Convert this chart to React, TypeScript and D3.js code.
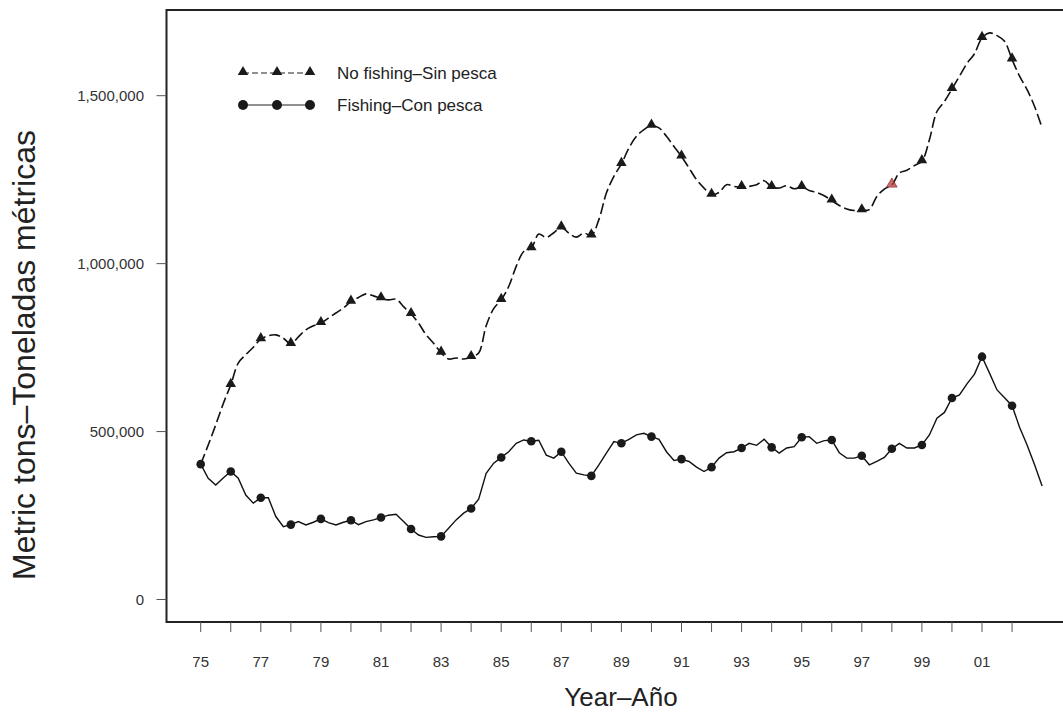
import React from "react";
import * as d3 from "d3";

const quarters: number[] = d3.range(0, 113).map((i) => 1975 + i * 0.25);

const noFishing: number[] = [
  403000, 460000, 520000, 583000,
  639000, 704000, 729000, 751000,
  775000, 785000, 788000, 778000,
  761000, 782000, 803000, 815000,
  823000, 838000, 853000, 868000,
  887000, 899000, 910000, 904000,
  897000, 892000, 894000, 872000,
  850000, 823000, 788000, 763000,
  735000, 716000, 719000, 716000,
  722000, 734000, 815000, 866000,
  892000, 932000, 992000, 1036000,
  1046000, 1088000, 1078000, 1092000,
  1108000, 1091000, 1079000, 1091000,
  1084000, 1131000, 1210000, 1260000,
  1297000, 1344000, 1379000, 1399000,
  1411000, 1404000, 1379000, 1349000,
  1319000, 1285000, 1250000, 1225000,
  1205000, 1212000, 1235000, 1230000,
  1228000, 1230000, 1235000, 1247000,
  1228000, 1225000, 1232000, 1223000,
  1228000, 1218000, 1212000, 1202000,
  1188000, 1173000, 1163000, 1158000,
  1159000, 1161000, 1200000, 1222000,
  1234000, 1270000, 1278000, 1292000,
  1305000, 1369000, 1453000, 1483000,
  1520000, 1558000, 1596000, 1625000,
  1672000, 1687000, 1679000, 1662000,
  1608000, 1558000, 1518000, 1468000,
  1404000,
];

const fishing: number[] = [
  403000, 361000, 341000, 362000,
  381000, 361000, 311000, 287000,
  303000, 303000, 247000, 217000,
  223000, 232000, 222000, 230000,
  240000, 229000, 222000, 230000,
  236000, 223000, 232000, 237000,
  244000, 251000, 254000, 232000,
  210000, 192000, 185000, 187000,
  188000, 212000, 237000, 257000,
  271000, 299000, 376000, 406000,
  423000, 440000, 465000, 475000,
  471000, 474000, 430000, 421000,
  440000, 406000, 376000, 371000,
  368000, 401000, 436000, 470000,
  465000, 477000, 490000, 495000,
  485000, 477000, 440000, 414000,
  418000, 411000, 394000, 381000,
  394000, 421000, 437000, 440000,
  451000, 465000, 459000, 477000,
  453000, 436000, 451000, 455000,
  483000, 485000, 465000, 473000,
  475000, 437000, 421000, 421000,
  428000, 401000, 411000, 423000,
  449000, 465000, 451000, 451000,
  460000, 490000, 540000, 557000,
  600000, 609000, 642000, 671000,
  723000, 674000, 624000, 601000,
  577000, 513000, 460000, 401000,
  338000,
];

const yTicks: number[] = [0, 500000, 1000000, 1500000];
const xTickYears: number[] = d3.range(1975, 2003);
const xLabelYears: number[] = d3.range(1975, 2002, 2);
const markerYears: number[] = d3.range(1975, 2003);
const highlightYear = 1998;

const legendItems = [
  { label: "No fishing\u2013Sin pesca", kind: "triangle" },
  { label: "Fishing\u2013Con pesca", kind: "circle" },
];

const W = 1063;
const H = 713;
const FONT = "'Liberation Sans', Arial, Helvetica, sans-serif";

export default function App() {
  const left = 166.5;
  const right = 1070;
  const top = 10;
  const bottom = 622;

  const x = d3.scaleLinear().domain([1975, 2001]).range([200.7, 982]);
  const y = d3.scaleLinear().domain([0, 1500000]).range([599.5, 95.7]);

  const lineNo = d3
    .line<number>()
    .x((_, i) => x(quarters[i]))
    .y((d) => y(d))
    .curve(d3.curveCatmullRom.alpha(0.5));
  const lineF = d3
    .line<number>()
    .x((_, i) => x(quarters[i]))
    .y((d) => y(d))
    .curve(d3.curveLinear);

  const markerIdx = markerYears.map((yr) => quarters.indexOf(yr)).filter((i) => i >= 0);

  const tri = d3.symbol().type(d3.symbolTriangle).size(48);
  const fmt = d3.format(",");

  const legX = [243, 277, 310];
  const legY = [73, 105];

  return (
    <svg width={W} height={H} style={{ position: "absolute", left: 0, top: 0, background: "#fff" }}>
      <rect x={0} y={0} width={W} height={H} fill="#fff" />
      <path
        d={`M${right},${top} L${left},${top} L${left},${bottom} L${right},${bottom}`}
        fill="none"
        stroke="#222"
        strokeWidth={2}
      />
      {yTicks.map((t) => (
        <g key={"y" + t}>
          <line x1={left - 10} x2={left} y1={y(t)} y2={y(t)} stroke="#555" strokeWidth={1} />
          <text x={144} y={y(t) + 5} textAnchor="end" fontFamily={FONT} fontSize={15} fill="#333">
            {fmt(t)}
          </text>
        </g>
      ))}
      {xTickYears.map((t) => (
        <line key={"x" + t} x1={x(t)} x2={x(t)} y1={bottom} y2={bottom + 10} stroke="#555" strokeWidth={1} />
      ))}
      {xLabelYears.map((t) => (
        <text key={"xl" + t} x={x(t)} y={667} textAnchor="middle" fontFamily={FONT} fontSize={15} fill="#333">
          {String(t % 100).padStart(2, "0")}
        </text>
      ))}
      <text x={621} y={706} textAnchor="middle" fontFamily={FONT} fontSize={26} fill="#222">
        Year–Año
      </text>
      <text
        transform={`translate(35,355) rotate(-90)`}
        textAnchor="middle"
        fontFamily={FONT}
        fontSize={32}
        fill="#222"
      >
        Metric tons–Toneladas métricas
      </text>

      <path d={lineNo(noFishing) || ""} fill="none" stroke="#111" strokeWidth={1.6} strokeDasharray="11,4" />
      <path d={lineF(fishing) || ""} fill="none" stroke="#111" strokeWidth={1.4} />

      {markerIdx.slice(1).map((i) => (
        <path
          key={"t" + i}
          d={tri() || ""}
          transform={`translate(${x(quarters[i])},${y(noFishing[i]) - 1})`}
          fill={quarters[i] === highlightYear ? "#b04040" : "#1a1a1a"}
          stroke={quarters[i] === highlightYear ? "#a03030" : "none"}
          strokeWidth={0.8}
          fillOpacity={quarters[i] === highlightYear ? 0.75 : 1}
        />
      ))}
      {markerIdx.map((i) => (
        <circle key={"c" + i} cx={x(quarters[i])} cy={y(fishing[i])} r={4.3} fill="#1a1a1a" />
      ))}

      {legendItems.map((item, k) => (
        <g key={"leg" + k}>
          <line
            x1={legX[0]}
            x2={legX[2]}
            y1={legY[k]}
            y2={legY[k]}
            stroke="#222"
            strokeWidth={1.2}
            strokeDasharray={item.kind === "triangle" ? "6,3" : undefined}
          />
          {legX.map((lx, j) =>
            item.kind === "triangle" ? (
              <path key={j} d={tri() || ""} transform={`translate(${lx},${legY[k] - 1})`} fill="#1a1a1a" />
            ) : (
              <circle key={j} cx={lx} cy={legY[k]} r={5} fill="#1a1a1a" />
            )
          )}
          <text x={337} y={legY[k] + 6} fontFamily={FONT} fontSize={17} fill="#222">
            {item.label}
          </text>
        </g>
      ))}
    </svg>
  );
}
